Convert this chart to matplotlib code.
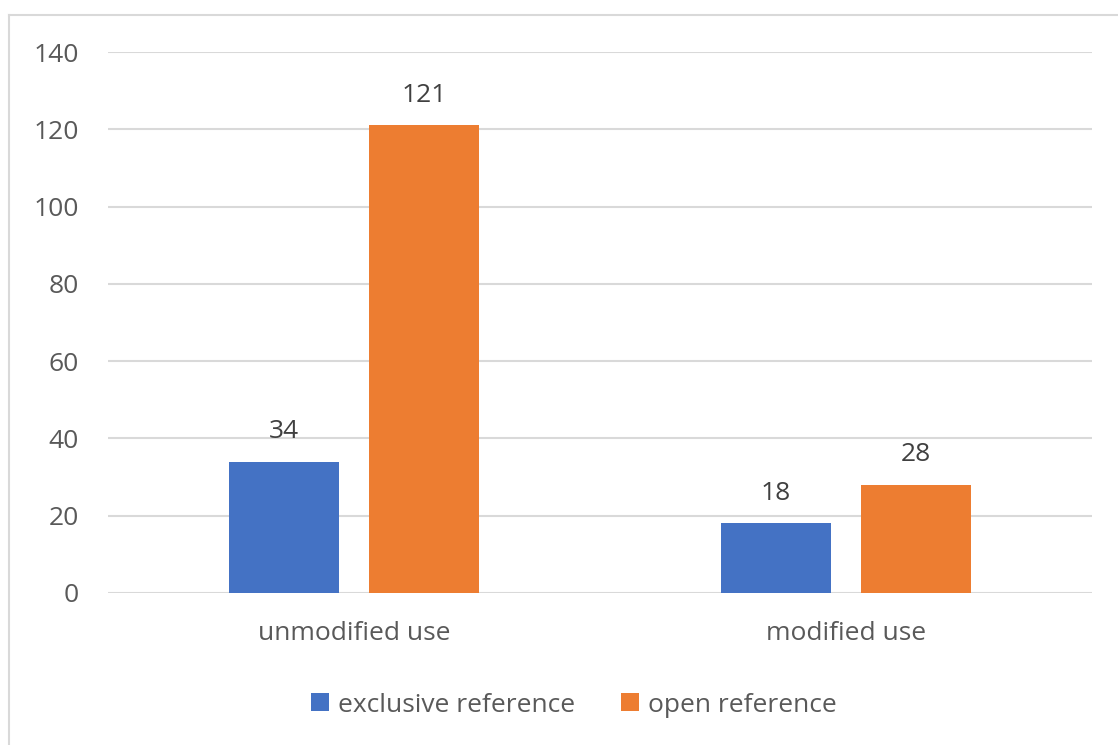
import matplotlib
matplotlib.use("Agg")
import matplotlib.pyplot as plt
from matplotlib.lines import Line2D
from matplotlib.patches import Patch
import numpy as np

categories = ["unmodified use", "modified use"]
series_names = ["exclusive reference", "open reference"]
exclusive_ref = [34, 18]
open_ref = [121, 28]
y_ticks = [0, 20, 40, 60, 80, 100, 120, 140]

BLUE = "#4472c4"
ORANGE = "#ed7d31"
GRID = "#d9d9d9"
FS = 19

plt.rcParams['font.family'] = ['Open Sans', 'DejaVu Sans']

W, H = 1118, 745
fig = plt.figure(figsize=(W / 100, H / 100), dpi=100)

# plot area in pixel terms
left, right, top, bottom = 108, 1092, 52, 593
ax = fig.add_axes([left / W, 1 - bottom / H, (right - left) / W, (bottom - top) / H])

x = np.arange(len(categories))
bw = 0.2236
off = 0.1423
b1 = ax.bar(x - off, exclusive_ref, bw, color=BLUE, zorder=3)
b2 = ax.bar(x + off, open_ref, bw, color=ORANGE, zorder=3)

ax.set_xlim(-0.5, len(categories) - 0.5)
ax.set_ylim(0, 140)
ax.set_yticks(y_ticks)
ax.set_yticklabels([str(v) for v in y_ticks], fontsize=FS, color="#595959")
ax.tick_params(axis='y', length=0, pad=21)
ax.set_xticks([])
for s in ax.spines.values():
    s.set_visible(False)
ax.grid(axis='y', color=GRID, linewidth=1.5, zorder=0)
ax.set_axisbelow(True)

# value labels above the bars
for bars, vals in ((b1, exclusive_ref), (b2, open_ref)):
    for rect, v in zip(bars, vals):
        ax.annotate(str(v), (rect.get_x() + rect.get_width() / 2, v),
                    xytext=(0, 17), textcoords='offset points',
                    ha='center', va='baseline', fontsize=FS, color="#404040")

# category names under the axis
for xi, name in zip(x, categories):
    ax.annotate(name, (xi, 0), xytext=(0, -29.5), textcoords='offset points',
                ha='center', va='center', fontsize=FS, color="#595959")

handles = [Patch(facecolor=BLUE), Patch(facecolor=ORANGE)]
fig.legend(handles, series_names, loc='center', bbox_to_anchor=(574 / W, 1 - 705 / H),
           ncol=2, frameon=False, fontsize=FS, labelcolor="#595959",
           handlelength=0.68, handleheight=0.68, handletextpad=0.35, columnspacing=1.75)

# chart border (right and bottom run past the canvas)
fig.add_artist(Line2D([8.5 / W, 8.5 / W], [0, 1 - 14.5 / H], transform=fig.transFigure,
                      color=GRID, linewidth=1.5))
fig.add_artist(Line2D([8.5 / W, 1], [1 - 14.5 / H, 1 - 14.5 / H], transform=fig.transFigure,
                      color=GRID, linewidth=1.5))

fig.savefig("out.png", dpi=100, facecolor="white")
